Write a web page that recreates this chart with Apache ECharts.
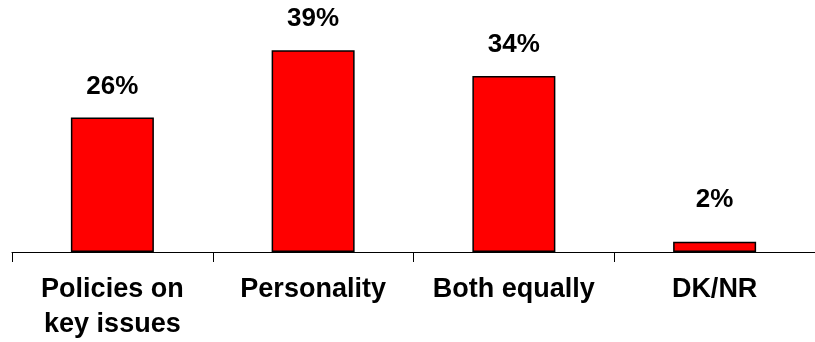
<!DOCTYPE html>
<html>
<head>
<meta charset="utf-8">
<script src="https://cdn.jsdelivr.net/npm/echarts@6/dist/echarts.min.js"></script>
<style>
html,body{margin:0;padding:0;background:#fff;}
#chart{width:815px;height:342px;}
</style>
</head>
<body>
<div id="chart"></div>
<script>
var categories = ['Policies on\nkey issues', 'Personality', 'Both equally', 'DK/NR'];
var values = [26, 39, 34, 2];
var labelTexts = ['26%', '39%', '34%', '2%'];
var labelGaps = [18, 18, 18, 29];

var chart = echarts.init(document.getElementById('chart'), null, {renderer: 'canvas'});
var font = '"Liberation Sans", Arial, sans-serif';
chart.setOption({
  animation: false,
  backgroundColor: '#ffffff',
  grid: {left: 12, top: 45, width: 808, height: 208, containLabel: false},
  xAxis: {
    type: 'category',
    data: categories,
    boundaryGap: true,
    axisLine: {show: true, lineStyle: {color: '#000', width: 1}},
    axisTick: {show: true, length: 10, lineStyle: {color: '#000', width: 1}},
    axisLabel: {
      interval: 0, margin: 20, color: '#000', fontFamily: font,
      fontWeight: 'bold', fontSize: 27, lineHeight: 35
    }
  },
  yAxis: {
    type: 'value', min: 0, max: 40, show: false,
    splitLine: {show: false}
  },
  series: [{
    type: 'bar',
    barWidth: 83,
    data: values.map(function (v, i) {
      return {
        value: v,
        label: {distance: labelGaps[i]}
      };
    }),
    itemStyle: {color: '#ff0000', borderColor: '#000', borderWidth: 1.5},
    label: {
      show: true, position: 'top', color: '#000', fontFamily: font,
      fontWeight: 'bold', fontSize: 26,
      formatter: function (p) { return labelTexts[p.dataIndex]; }
    }
  }]
});
</script>
</body>
</html>
